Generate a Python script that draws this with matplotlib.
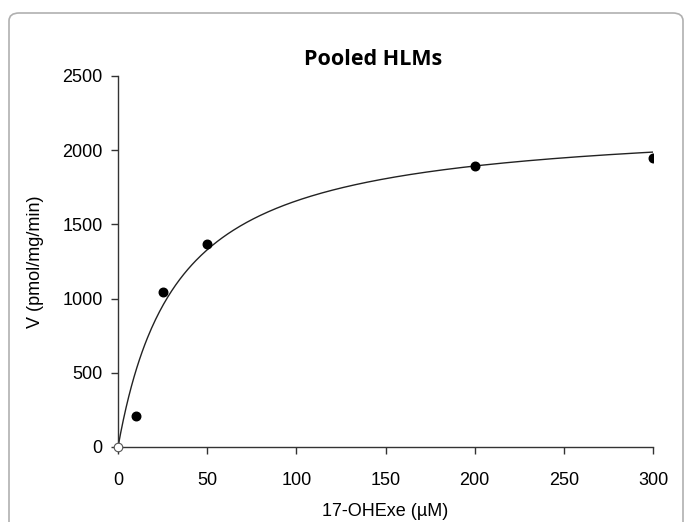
import matplotlib
matplotlib.use("Agg")
import matplotlib.pyplot as plt
import numpy as np
from matplotlib.patches import FancyBboxPatch

# measured data
substrate = [0, 10, 25, 50, 200, 300]
velocity = [0, 210, 1045, 1370, 1890, 1945]

# Michaelis-Menten fit parameters
vmax = 2205.0
km = 33.0

x_ticks = [0, 50, 100, 150, 200, 250, 300]
y_ticks = [0, 500, 1000, 1500, 2000, 2500]

plt.rcParams["font.family"] = ["Liberation Sans", "DejaVu Sans"]

fig = plt.figure(figsize=(6.85, 5.22), dpi=100)
ax = fig.add_axes([0.1723, 0.1437, 0.781, 0.711])

# frame around the figure
frame = FancyBboxPatch((9 / 685, -0.2), 674 / 685, 1.2 - 13 / 522,
                       boxstyle="round,pad=0,rounding_size=0.015",
                       transform=fig.transFigure, fill=False,
                       edgecolor="#b0b0b0", linewidth=1.2)
fig.patches.append(frame)

s_fit = np.linspace(0, 300, 400)
v_fit = vmax * s_fit / (km + s_fit)
ax.plot(s_fit, v_fit, color="#222222", linewidth=1.0, zorder=2)

ax.scatter(substrate[1:], velocity[1:], s=38, color="black", zorder=3)
ax.scatter(substrate[:1], velocity[:1], s=38, facecolor="white",
           edgecolor="#555555", linewidth=0.8, zorder=3, clip_on=False)

ax.set_xlim(0, 300)
ax.set_ylim(0, 2500)
ax.set_xticks(x_ticks)
ax.set_yticks(y_ticks)
ax.tick_params(direction="out", length=5, width=1, labelsize=13,
               color="#333333")
ax.tick_params(axis="x", pad=13)
ax.tick_params(axis="y", pad=6)
for side in ("top", "right"):
    ax.spines[side].set_visible(False)
for side in ("left", "bottom"):
    ax.spines[side].set_color("#333333")
    ax.spines[side].set_linewidth(1)

ax.set_title("Pooled HLMs", fontsize=15.5, fontweight="bold",
             family=["Open Sans", "DejaVu Sans"], x=0.477, pad=8)
ax.set_xlabel("17-OHExe (µM)", fontsize=13, labelpad=10)
ax.set_ylabel("V (pmol/mg/min)", fontsize=13, labelpad=13)

fig.savefig("out.png", dpi=100)
